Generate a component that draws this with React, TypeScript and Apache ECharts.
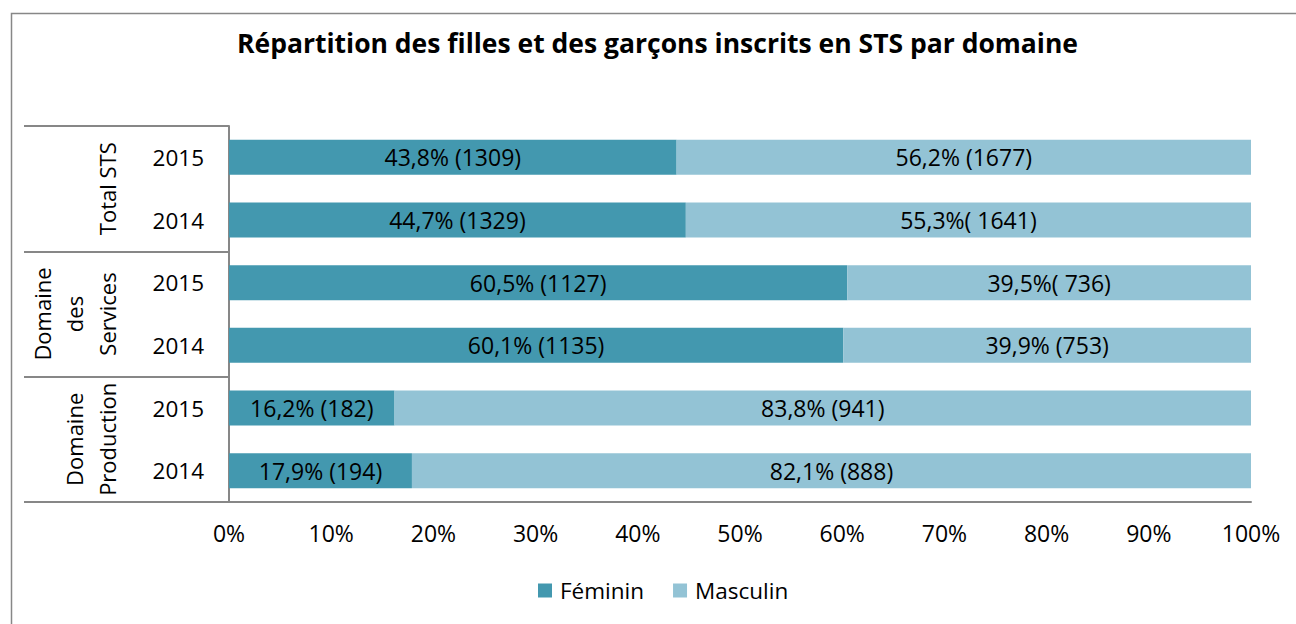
import React, { useEffect, useRef } from "react";
import * as echarts from "echarts";

const years = ["2015", "2014", "2015", "2014", "2015", "2014"];
const groups = ["Total STS", "Domaine\ndes\nServices", "Domaine\nProduction"];
const femininPct = [43.8, 44.7, 60.5, 60.1, 16.2, 17.9];
const masculinPct = [56.2, 55.3, 39.5, 39.9, 83.8, 82.1];
const femininLabels = ["43,8% (1309)", "44,7% (1329)", "60,5% (1127)", "60,1% (1135)", "16,2% (182)", "17,9% (194)"];
const masculinLabels = ["56,2% (1677)", "55,3%( 1641)", "39,5%( 736)", "39,9% (753)", "83,8% (941)", "82,1% (888)"];
const xTicks = { min: 0, max: 100, interval: 10 };
const titleText = "Répartition des filles et des garçons inscrits en STS par domaine";

const FONT = "'Open Sans', Lato, sans-serif";
const GRAY = "#878787";
const DARK = "#4398AF";
const LIGHT = "#93C3D5";

export default function App() {
  const ref = useRef<HTMLDivElement>(null);
  useEffect(() => {
    if (!ref.current) return;
    const chart = echarts.init(ref.current, null, { renderer: "svg" });
    chart.setOption({
      animation: false,
      backgroundColor: "#ffffff",
      textStyle: { fontFamily: FONT },
      title: {
        text: titleText,
        left: 237,
        top: 29,
        padding: 0,
        textStyle: { fontFamily: FONT, fontSize: 26.5, fontWeight: "bold", color: "#000" },
      },
      graphic: [
        {
          type: "rect",
          shape: { x: 11.5, y: 13.5, width: 1400, height: 800 },
          style: { fill: "none", stroke: GRAY, lineWidth: 1.5 },
          silent: true,
        },
      ],
      legend: {
        left: 533,
        top: 574,
        icon: "rect",
        itemWidth: 14,
        itemHeight: 14,
        itemGap: 29,
        textStyle: { fontFamily: FONT, fontSize: 22.5, color: "#000", padding: [0, 0, 0, 3] },
        data: ["Féminin", "Masculin"],
      },
      grid: { left: 229, top: 126, width: 1022, height: 376, containLabel: false },
      xAxis: {
        type: "value",
        min: xTicks.min,
        max: xTicks.max,
        interval: xTicks.interval,
        axisLine: { show: true, lineStyle: { color: GRAY, width: 2 } },
        axisTick: { show: false },
        splitLine: { show: false },
        axisLabel: { formatter: "{value}%", fontFamily: FONT, fontSize: 23, color: "#000", margin: 19 },
      },
      yAxis: [
        {
          type: "category",
          data: years,
          inverse: true,
          axisLine: { show: true, lineStyle: { color: GRAY, width: 2 } },
          axisTick: { show: false },
          axisLabel: { interval: 0, fontFamily: FONT, fontSize: 22.5, color: "#000", margin: 25 },
        },
        {
          type: "category",
          data: groups,
          inverse: true,
          position: "left",
          axisLine: { show: false },
          axisTick: { show: true, interval: 0, length: 205, lineStyle: { color: GRAY, width: 2 } },
          axisLabel: {
            interval: 0,
            rotate: 90,
            align: "center",
            verticalAlign: "bottom",
            margin: 106,
            fontFamily: FONT,
            fontSize: 22,
            lineHeight: 32.5,
            color: "#000",
          },
        },
      ],
      series: [
        {
          name: "Féminin",
          type: "bar",
          stack: "total",
          yAxisIndex: 0,
          barWidth: 35,
          data: femininPct,
          itemStyle: { color: DARK },
          label: {
            show: true,
            position: "inside",
            color: "#000",
            fontFamily: FONT,
            fontSize: 23,
            formatter: (p: any) => femininLabels[p.dataIndex],
          },
        },
        {
          name: "Masculin",
          type: "bar",
          stack: "total",
          yAxisIndex: 0,
          barWidth: 35,
          data: masculinPct,
          itemStyle: { color: LIGHT },
          label: {
            show: true,
            position: "inside",
            color: "#000",
            fontFamily: FONT,
            fontSize: 23,
            formatter: (p: any) => masculinLabels[p.dataIndex],
          },
        },
      ],
    });
    return () => chart.dispose();
  }, []);
  return (
    <div
      ref={ref}
      style={{ position: "fixed", left: 0, top: 0, width: 1296, height: 624 }}
    />
  );
}
